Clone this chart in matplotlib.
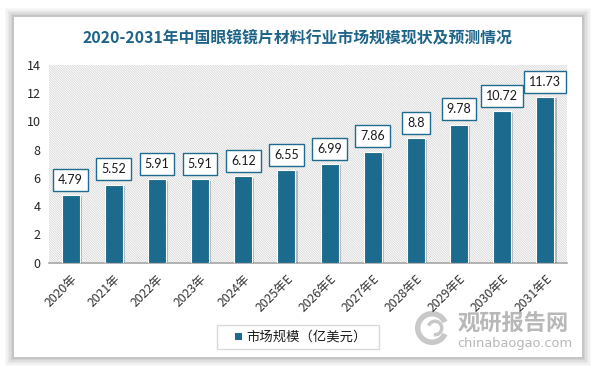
import matplotlib
matplotlib.use("Agg")
import matplotlib.pyplot as plt
from matplotlib.patches import Rectangle, Wedge
import matplotlib.patheffects as pe

plt.rcParams['font.family'] = ['Noto Sans CJK SC', 'DejaVu Sans']
plt.rcParams['hatch.linewidth'] = 0.5

categories = ['2020年', '2021年', '2022年', '2023年', '2024年', '2025年E', '2026年E',
              '2027年E', '2028年E', '2029年E', '2030年E', '2031年E']
values = [4.79, 5.52, 5.91, 5.91, 6.12, 6.55, 6.99, 7.86, 8.8, 9.78, 10.72, 11.73]
value_labels = ['4.79', '5.52', '5.91', '5.91', '6.12', '6.55', '6.99', '7.86', '8.8', '9.78', '10.72', '11.73']
yticks = [0, 2, 4, 6, 8, 10, 12, 14]
title = '2020-2031年中国眼镜镜片材料行业市场规模现状及预测情况'
legend_label = '市场规模（亿美元）'

W, H = 596, 369
fig = plt.figure(figsize=(W / 100, H / 100), dpi=100)
fig.patch.set_facecolor('white')

# card with soft shadow
bg = fig.add_axes([0, 0, 1, 1], zorder=-10)
bg.set_xlim(0, W); bg.set_ylim(H, 0); bg.axis('off')
for i, a in enumerate([0.025, 0.03, 0.035, 0.04, 0.05, 0.06]):
    d = 9 - i * 1.4
    bg.add_patch(Rectangle((14 - d, 17 - d), 568 + 2 * d, 340 + 2 * d,
                           facecolor='#000000', alpha=a, edgecolor='none'))
bg.add_patch(Rectangle((14, 17), 568, 340, facecolor='white', edgecolor='none'))

fig.text((86 + 509) / 2 / W, 1 - 37.5 / H, title, ha='center', va='center',
         fontsize=11.4, fontweight='bold', color='#1E6489')

left, right, top, bottom = 49, 567, 65, 262.5
ax = fig.add_axes([left / W, 1 - bottom / H, (right - left) / W, (bottom - top) / H])
ax.set_facecolor('white')
ax.add_patch(Rectangle((0, 0), 1, 1, transform=ax.transAxes, facecolor='white',
                       edgecolor='#CFCFCF', hatch='\\' * 14, linewidth=0, zorder=0))

x = list(range(len(categories)))
bars = ax.bar(x, values, width=0.42, color='#1C6B8E', edgecolor='white', linewidth=0.8, zorder=3)
for b in bars:
    b.set_path_effects([pe.SimplePatchShadow(offset=(1.5, -1), alpha=0.25), pe.Normal()])

for xi, v, lab in zip(x, values, value_labels):
    ax.annotate(lab, (xi, v), xytext=(0, 11), textcoords='offset points',
                ha='center', va='center', fontsize=9, color='#1A1A1A',
                family=['Lato', 'DejaVu Sans'],
                bbox=dict(boxstyle='square,pad=0.4', facecolor='white',
                          edgecolor='#1F6B8E', linewidth=1.0), zorder=5)

ax.set_xlim(-0.5, len(categories) - 0.5)
ax.set_ylim(0, 14)
ax.set_yticks(yticks)
ax.set_yticklabels([str(t) for t in yticks], fontsize=9, color='#262626')
ax.set_xticks(x)
ax.set_xticklabels(categories, rotation=45, ha='right', rotation_mode='anchor',
                   fontsize=8.8, color='#333333')
ax.tick_params(axis='both', length=0, pad=6)
ax.tick_params(axis='x', pad=7)
for s in ['top', 'right', 'left']:
    ax.spines[s].set_visible(False)
ax.spines['bottom'].set_color('#A6A6A6')
ax.spines['bottom'].set_linewidth(1.2)

# legend box
bg.add_patch(Rectangle((217, 325), 162, 24, facecolor='white', edgecolor='#D9D9D9', linewidth=1))
bg.add_patch(Rectangle((235, 333), 7, 7, facecolor='#1C6B8E', edgecolor='none'))
bg.text(246, 337, legend_label, ha='left', va='center', fontsize=9.6, color='#1A1A1A')

# watermark
bg.text(458, 324.5, '观研报告网', ha='left', va='center', fontsize=16, fontweight='bold',
        color='#B8B8B8')
bg.text(457, 343, 'chinabaogao.com', ha='left', va='center', fontsize=9.4,
        color='#B8B8B8', family=['DejaVu Sans'])
bg.add_patch(Wedge((432, 328), 17, 25, 335, width=5.5, facecolor='#C8C8C8', edgecolor='none'))
bg.add_patch(Wedge((435, 328), 8.5, 200, 100, width=3.5, facecolor='#C8C8C8', edgecolor='none'))

fig.savefig('out.png', dpi=100, facecolor='white')
